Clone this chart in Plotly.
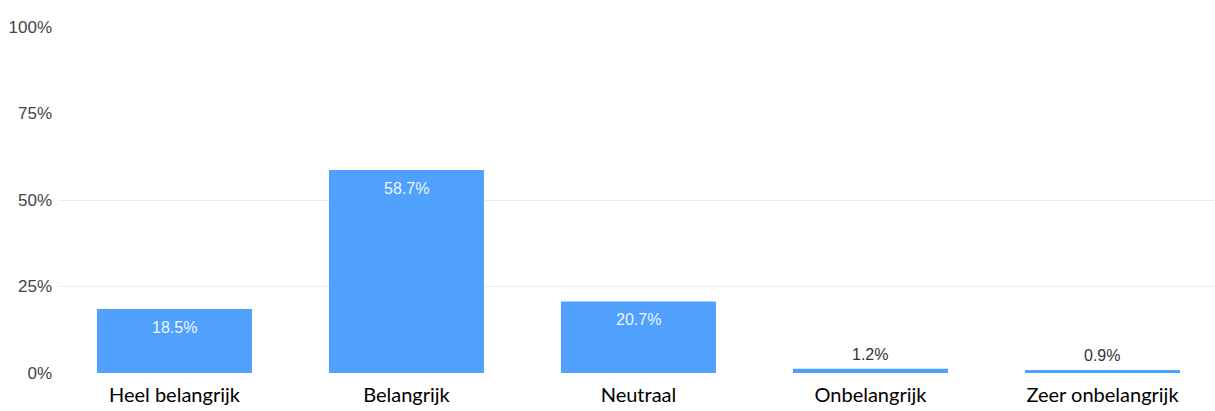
import plotly.graph_objects as go

categories = ["Heel belangrijk", "Belangrijk", "Neutraal", "Onbelangrijk", "Zeer onbelangrijk"]
values = [18.5, 58.7, 20.7, 1.2, 0.9]
y_ticks = [0, 25, 50, 75, 100]
y_tick_labels = ["0%", "25%", "50%", "75%", "100%"]
grid_ticks = [0, 25, 50]

BAR = "#50a1fe"

fig = go.Figure()
fig.add_trace(go.Bar(
    x=categories, y=values, marker=dict(color=BAR, line=dict(width=0)),
    hoverinfo="skip", showlegend=False,
))
# invisible trace on second y-axis so its grid draws
fig.add_trace(go.Scatter(x=categories, y=values, yaxis="y2", mode="markers",
                         marker=dict(opacity=0), hoverinfo="skip", showlegend=False))

for c, v in zip(categories, values):
    if v > 10:
        fig.add_annotation(x=c, y=v, text=f"{v}%", showarrow=False, yanchor="top",
                           yshift=-8, font=dict(family="Liberation Sans, Arial", size=16, color="#eef5ff"))
    else:
        fig.add_annotation(x=c, y=v, text=f"{v}%", showarrow=False, yanchor="bottom",
                           yshift=4, font=dict(family="Liberation Sans, Arial", size=16, color="#333333"))

fig.update_layout(
    width=1215, height=411,
    margin=dict(l=58, r=0, t=27, b=37.5),
    paper_bgcolor="white", plot_bgcolor="rgba(0,0,0,0)",
    bargap=0.332,
    xaxis=dict(
        type="category", range=[-0.502, 4.485], automargin=False,
        tickfont=dict(family="Lato, Open Sans", size=20, color="#000000"),
        showgrid=False, zeroline=False, showline=False, ticks="",
        ticklabelstandoff=8,
    ),
    yaxis=dict(
        range=[0, 100], tickvals=y_ticks, ticktext=y_tick_labels, automargin=False,
        tickfont=dict(family="Liberation Sans, Arial", size=17, color="#444444"),
        showgrid=False, zeroline=False, showline=False, ticks="",
        ticklabelstandoff=5,
    ),
    yaxis2=dict(
        range=[0, 100], overlaying="y", side="left", tickvals=grid_ticks, automargin=False,
        showticklabels=False, showgrid=True, gridcolor="#ebebeb", gridwidth=1,
        zeroline=False, showline=False, ticks="", layer="below traces",
    ),
)

fig.write_html("out.html", config={"displayModeBar": False},
               post_script="document.body.style.margin='0';document.body.style.overflow='hidden';")
